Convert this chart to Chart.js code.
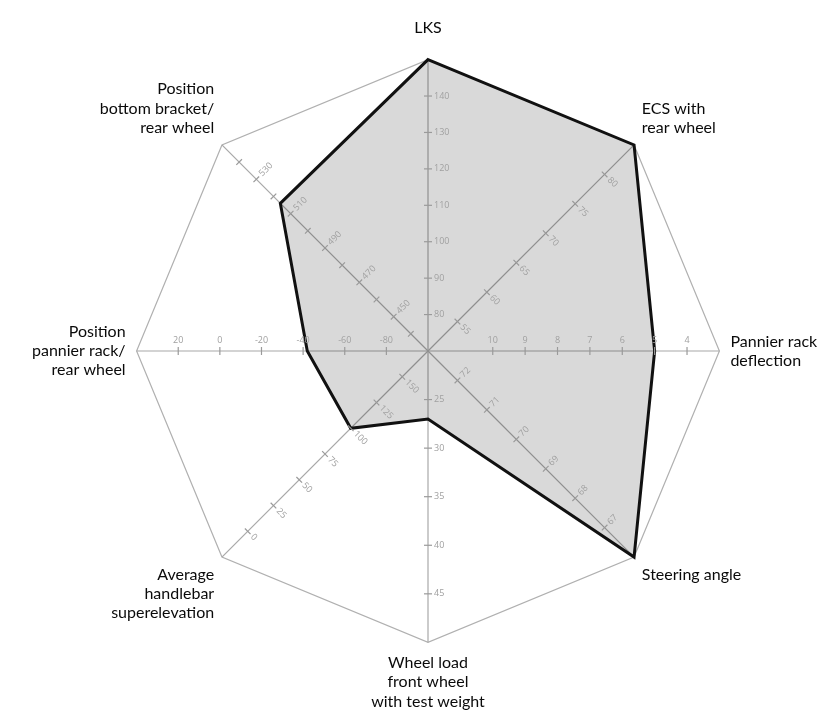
<!DOCTYPE html>
<html>
<head>
<meta charset="utf-8">
<script src="https://cdn.jsdelivr.net/npm/chart.js@4.4.0/dist/chart.umd.min.js"></script>
<style>
  html, body { margin: 0; padding: 0; background: #fff; overflow: hidden; }
  #frame { width: 834px; height: 717px; overflow: hidden; }
  #wrap { width: 834px; height: 725px; }
</style>
</head>
<body>
<div id="frame"><div id="wrap"><canvas id="radar"></canvas></div></div>
<script>
// spokes, clockwise from the top
const CATEGORIES = [
    'LKS',
    ['ECS with', 'rear wheel'],
    ['Pannier rack', 'deflection'],
    'Steering angle',
    ['Wheel load', 'front wheel', 'with test weight'],
    ['Average', 'handlebar', 'superelevation'],
    ['Position', 'pannier rack/', 'rear wheel'],
    ['Position', 'bottom bracket/', 'rear wheel']
];

// every spoke has its own scale: value at the centre and at the outer ring
const AXIS_CENTER = [70, 50, 12, 73, 20, 175, -100, 430];
const AXIS_OUTER = [150, 85, 3, 66, 50, -25, 40, 550];

// measured values, in each spoke's own unit
const VALUES = [150, 85, 5, 66, 27, 100, -42, 516];

// tick labels along each spoke
const LKS_TICKS = [80, 90, 100, 110, 120, 130, 140];
const ECS_TICKS = [55, 60, 65, 70, 75, 80];
const DEFLECTION_TICKS = [10, 9, 8, 7, 6, 5, 4];
const STEERING_TICKS = [72, 71, 70, 69, 68, 67];
const WHEEL_LOAD_TICKS = [25, 30, 35, 40, 45];
const HANDLEBAR_TICKS = [150, 125, 100, 75, 50, 25, 0];
const RACK_TICKS = [-80, -60, -40, -20, 0, 20];
const BRACKET_TICKS = [440, 450, 460, 470, 480, 490, 500, 510, 520, 530, 540];
const BRACKET_LABELS = [450, 470, 490, 510, 530];

const AXIS_TICKS = [LKS_TICKS, ECS_TICKS, DEFLECTION_TICKS, STEERING_TICKS,
    WHEEL_LOAD_TICKS, HANDLEBAR_TICKS, RACK_TICKS, BRACKET_TICKS];

function norm(v, i) {
    return (v - AXIS_CENTER[i]) / (AXIS_OUTER[i] - AXIS_CENTER[i]);
}

// draws the per-spoke tick marks and their small labels
const spokeTicks = {
    id: 'spokeTicks',
    afterDatasetsDraw: function (chart) {
        const scale = chart.scales.r;
        const ctx = chart.ctx;
        ctx.save();
        ctx.strokeStyle = '#9a9a9a';
        ctx.fillStyle = '#a0a0a0';
        ctx.lineWidth = 1.2;
        ctx.font = '9px "Open Sans", sans-serif';
        for (let i = 0; i < AXIS_TICKS.length; i++) {
            const c = scale.getPointPositionForValue(i, 0);
            const o = scale.getPointPositionForValue(i, 1);
            const len = Math.hypot(o.x - c.x, o.y - c.y);
            const ux = (o.x - c.x) / len, uy = (o.y - c.y) / len;
            let dx = -uy, dy = ux;
            const flat = Math.abs(dx) < 0.01;
            if (dx < -0.01 || (flat && dy > 0)) { dx = -dx; dy = -dy; }
            AXIS_TICKS[i].forEach(function (t) {
                const p = scale.getPointPositionForValue(i, norm(t, i));
                ctx.beginPath();
                ctx.moveTo(p.x - dx * 4, p.y - dy * 4);
                ctx.lineTo(p.x + dx * 4, p.y + dy * 4);
                ctx.stroke();
                if (i === 7 && BRACKET_LABELS.indexOf(t) < 0) return;
                ctx.save();
                if (flat) {
                    ctx.translate(p.x, p.y - 6);
                    ctx.textAlign = 'center';
                    ctx.textBaseline = 'bottom';
                } else {
                    ctx.translate(p.x + dx * 6, p.y + dy * 6);
                    ctx.rotate(Math.atan2(dy, dx));
                    ctx.textAlign = 'left';
                    ctx.textBaseline = 'middle';
                }
                ctx.fillText(String(t), 0, 0);
                ctx.restore();
            });
        }
        ctx.restore();
    }
};

const data = {
    labels: CATEGORIES,
    datasets: [{
        data: VALUES.map(norm),
        fill: true,
        backgroundColor: 'rgba(0, 0, 0, 0.15)',
        borderColor: '#111',
        borderWidth: 3,
        pointRadius: 0,
        segment: {
            borderColor: function (ctx) {
                return ctx.p0DataIndex === 0 ? 'rgba(0,0,0,0)' : '#111';
            }
        }
    }]
};

const options = {
    responsive: true,
    maintainAspectRatio: false,
    animation: false,
    layout: { padding: { left: 16, right: 0, top: 6, bottom: 0 } },
    scales: {
        r: {
            min: 0,
            max: 1,
            ticks: { display: false, stepSize: 1 },
            grid: { color: '#b0b0b0', lineWidth: 1.2 },
            angleLines: { color: '#a8a8a8', lineWidth: 1.2 },
            pointLabels: {
                color: '#0a0a0a',
                padding: function (ctx) {
                    return ctx.index === 0 ? 22 : 11;
                },
                font: { family: 'Lato, sans-serif', size: 16 }
            }
        }
    },
    plugins: {
        legend: { display: false },
        tooltip: { enabled: false }
    }
};

new Chart(document.getElementById('radar'), {
    type: 'radar',
    data: data,
    options: options,
    plugins: [spokeTicks]
});
</script>
</body>
</html>
